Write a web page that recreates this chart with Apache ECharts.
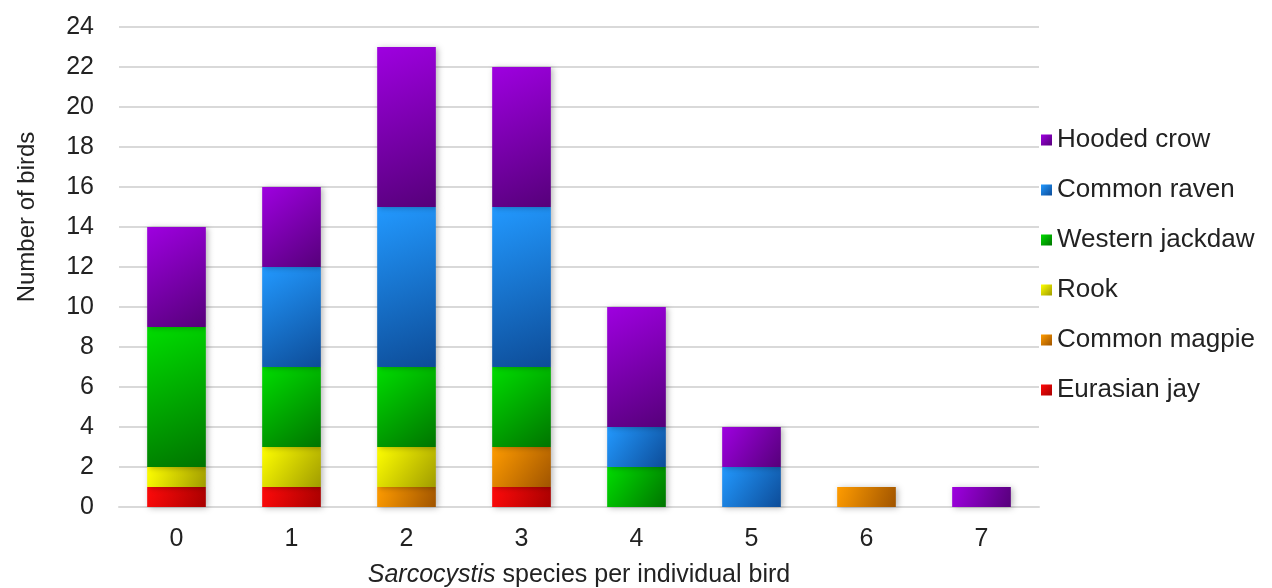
<!DOCTYPE html>
<html>
<head>
<meta charset="utf-8">
<script src="https://cdn.jsdelivr.net/npm/echarts@6/dist/echarts.min.js"></script>
<style>
html,body{margin:0;padding:0;background:#fff;}
#chart{width:1272px;height:588px;}
</style>
</head>
<body>
<div id="chart"></div>
<script>
var categories = ['0', '1', '2', '3', '4', '5', '6', '7'];
var eurasianJay    = [1, 1, 0, 1, 0, 0, 0, 0];
var commonMagpie   = [0, 0, 1, 2, 0, 0, 1, 0];
var rook           = [1, 2, 2, 0, 0, 0, 0, 0];
var westernJackdaw = [7, 4, 4, 4, 2, 0, 0, 0];
var commonRaven    = [0, 5, 8, 8, 2, 2, 0, 0];
var hoodedCrow     = [5, 4, 8, 7, 6, 2, 0, 1];
var yTicks = { min: 0, max: 24, interval: 2 };

var seriesDefs = [
  { name: 'Eurasian jay', data: eurasianJay, c1: '#ff0a0a', c2: '#a80000' },
  { name: 'Common magpie', data: commonMagpie, c1: '#ff9c00', c2: '#a05400' },
  { name: 'Rook', data: rook, c1: '#ffff00', c2: '#a09c00' },
  { name: 'Western jackdaw', data: westernJackdaw, c1: '#00dd00', c2: '#007400' },
  { name: 'Common raven', data: commonRaven, c1: '#2299ff', c2: '#0d4c98' },
  { name: 'Hooded crow', data: hoodedCrow, c1: '#9e00e0', c2: '#56007a' }
];

var chart = echarts.init(document.getElementById('chart'));
var textColor = '#222222';
var font = 'Liberation Sans, Arial, sans-serif';

chart.setOption({
  animation: false,
  backgroundColor: '#ffffff',
  textStyle: { fontFamily: font, color: textColor },
  grid: { left: 119, right: 233, top: 27, bottom: 81, containLabel: false, outerBoundsMode: 'none' },
  legend: {
    orient: 'vertical',
    left: 1036,
    top: 122,
    itemWidth: 11,
    itemHeight: 11,
    itemGap: 24,
    icon: 'rect',
    data: ['Hooded crow', 'Common raven', 'Western jackdaw', 'Rook', 'Common magpie', 'Eurasian jay'],
    textStyle: { fontSize: 26, color: textColor, fontFamily: font }
  },
  xAxis: {
    type: 'category',
    data: categories,
    axisTick: { show: false },
    axisLine: { show: true, lineStyle: { color: '#d9d9d9', width: 2 } },
    axisLabel: { fontSize: 25, color: textColor, margin: 20, fontFamily: font },
    name: '{i|Sarcocystis} species per individual bird',
    nameLocation: 'middle',
    nameGap: 56,
    nameTextStyle: {
      fontSize: 25, color: textColor, fontFamily: font,
      rich: { i: { fontSize: 25, fontStyle: 'italic', color: textColor, fontFamily: font } }
    }
  },
  yAxis: {
    type: 'value',
    min: yTicks.min,
    max: yTicks.max,
    interval: yTicks.interval,
    axisLine: { show: false },
    axisTick: { show: false },
    splitLine: { lineStyle: { color: '#d9d9d9', width: 2 } },
    axisLabel: { fontSize: 25, color: textColor, margin: 25, fontFamily: font },
    name: 'Number of birds',
    nameLocation: 'middle',
    nameGap: 80,
    nameTextStyle: { fontSize: 24, color: textColor, fontFamily: font, padding: [0, 0, 0, 100] }
  },
  series: seriesDefs.map(function (s) {
    return {
      name: s.name,
      type: 'bar',
      stack: 'total',
      barWidth: '51%',
      data: s.data.map(function (v) { return v === 0 ? '-' : v; }),
      itemStyle: {
        color: new echarts.graphic.LinearGradient(0, 0, 1, 1, [
          { offset: 0, color: s.c1 },
          { offset: 1, color: s.c2 }
        ]),
        shadowBlur: 6,
        shadowColor: 'rgba(0,0,0,0.28)',
        shadowOffsetX: 2,
        shadowOffsetY: 1
      }
    };
  })
});
</script>
</body>
</html>
